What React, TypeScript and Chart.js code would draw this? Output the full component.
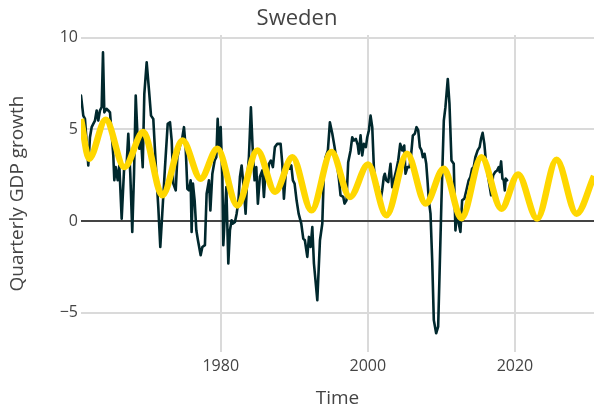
import React, { useEffect, useRef } from "react";
import { Chart, registerables } from "chart.js";

Chart.register(...registerables);

const FONT = "'Open Sans', 'Noto Sans', sans-serif";
const TITLE = "Sweden";
const X_TITLE = "Time";
const Y_TITLE = "Quarterly GDP growth";

const X_TICKS = [1980, 2000, 2020];
const Y_TICKS = [-5, 0, 5, 10];
const X_MIN = 1961;
const X_MAX = 2030.75;
const Y_MIN = -7.15;
const Y_MAX = 10.15;

const gdpYears = [
  1961.0, 1961.31, 1961.54, 1961.99, 1962.22, 1962.45, 1962.67, 1962.9, 1963.13, 1963.35,
  1963.58, 1963.81, 1963.99, 1964.17, 1964.49, 1964.71, 1964.94, 1965.17, 1965.39, 1965.53,
  1965.72, 1965.99, 1966.21, 1966.53, 1966.85, 1967.21, 1967.43, 1967.7, 1967.97, 1968.21,
  1968.44, 1968.71, 1968.93, 1969.16, 1969.39, 1969.61, 1969.93, 1970.25, 1970.52, 1970.83,
  1971.06, 1971.29, 1971.51, 1971.78, 1972.05, 1972.42, 1972.79, 1973.1, 1973.33, 1973.55,
  1973.88, 1974.1, 1974.41, 1974.78, 1975.0, 1975.23, 1975.46, 1975.68, 1975.91, 1976.04,
  1976.22, 1976.45, 1976.68, 1976.9, 1977.27, 1977.5, 1977.85, 1978.08, 1978.4, 1978.59,
  1978.86, 1979.17, 1979.4, 1979.58, 1979.76, 1979.99, 1980.22, 1980.35, 1980.57, 1980.76,
  1981.03, 1981.25, 1981.48, 1981.66, 1981.93, 1982.16, 1982.39, 1982.61, 1982.84, 1983.15,
  1983.38, 1983.61, 1983.83, 1984.1, 1984.37, 1984.6, 1984.83, 1985.05, 1985.32, 1985.65,
  1985.87, 1986.1, 1986.33, 1986.55, 1986.82, 1987.09, 1987.36, 1987.69, 1988.14, 1988.37,
  1988.59, 1988.82, 1989.13, 1989.4, 1989.59, 1989.81, 1990.04, 1990.31, 1990.59, 1990.95,
  1991.22, 1991.44, 1991.77, 1991.99, 1992.22, 1992.45, 1992.67, 1993.13, 1993.49, 1993.81,
  1994.03, 1994.26, 1994.57, 1994.84, 1995.17, 1995.48, 1995.75, 1996.06, 1996.29, 1996.66,
  1996.83, 1997.1, 1997.33, 1997.65, 1997.88, 1998.1, 1998.37, 1998.64, 1998.78, 1999.01,
  1999.24, 1999.46, 1999.73, 1999.92, 2000.14, 2000.37, 2000.6, 2000.82, 2001.18, 2001.41,
  2001.72, 2001.95, 2002.17, 2002.31, 2002.5, 2002.77, 2003.08, 2003.31, 2003.53, 2003.86,
  2004.13, 2004.4, 2004.67, 2004.95, 2005.12, 2005.39, 2005.67, 2005.9, 2006.12, 2006.39,
  2006.62, 2006.85, 2007.07, 2007.3, 2007.48, 2007.71, 2007.94, 2008.11, 2008.29, 2008.52,
  2008.75, 2008.97, 2009.29, 2009.56, 2009.74, 2010.01, 2010.33, 2010.55, 2010.87, 2011.1,
  2011.37, 2011.68, 2011.91, 2012.14, 2012.36, 2012.59, 2012.82, 2013.13, 2013.4, 2013.71,
  2013.94, 2014.17, 2014.39, 2014.62, 2014.93, 2015.2, 2015.39, 2015.61, 2015.84, 2016.02,
  2016.21, 2016.43, 2016.76, 2017.03, 2017.3, 2017.58, 2017.8, 2017.93, 2018.12, 2018.3,
  2018.48, 2018.62, 2018.75, 2018.94,
];

const gdpGrowth = [
  6.84, 5.75, 5.57, 3.03, 4.57, 5.12, 5.3, 5.48, 6.03, 5.48,
  6.03, 6.21, 9.2, 5.93, 6.12, 6.03, 5.93, 4.76, 3.58, 2.22,
  2.94, 2.22, 3.03, 0.13, 2.76, 3.12, 4.76, 2.58, -0.6, 2.58,
  6.84, 4.39, 3.94, 4.57, 2.94, 6.94, 8.66, 7.11, 5.75, 5.57,
  3.85, 2.22, 0.76, -1.42, 0.4, 2.94, 5.3, 5.39, 4.39, 2.04,
  1.67, 3.48, 4.03, 4.57, 5.12, 4.03, 1.76, 1.67, 2.22, -0.6,
  2.04, 1.13, -0.51, -1.05, -1.87, -1.42, -1.32, 1.49, 2.22, 0.58,
  2.58, 3.3, 3.48, 5.57, 4.03, 5.12, 2.4, -1.32, 0.4, 1.85,
  -2.32, -0.51, 0.04, -0.14, -0.05, 0.4, 1.03, 2.4, 3.03, 1.67,
  0.4, 2.4, 3.48, 6.21, 3.67, 2.22, 2.94, 0.95, 2.4, 2.76,
  1.31, 2.76, 2.22, 3.12, 3.3, 2.94, 4.03, 4.21, 4.21, 3.12,
  1.22, 2.49, 3.12, 2.85, 3.03, 2.22, 2.04, 1.13, 0.4, -0.14,
  -0.96, -1.05, -1.96, -0.87, -1.42, -0.33, -2.32, -4.32, -1.05, -0.14,
  2.76, 3.48, 3.85, 5.39, 4.76, 4.03, 3.3, 2.31, 1.4, 1.31,
  0.95, 1.13, 3.21, 3.85, 4.57, 4.39, 4.48, 4.12, 3.67, 4.67,
  3.58, 4.21, 4.03, 4.57, 4.94, 5.75, 5.12, 2.94, 1.49, 1.85,
  1.13, 1.67, 2.4, 2.58, 2.22, 2.12, 3.12, 1.85, 2.22, 2.76,
  3.3, 4.21, 3.85, 4.12, 2.58, 2.94, 2.94, 3.67, 4.67, 4.76,
  5.12, 4.94, 4.03, 3.85, 3.48, 3.67, 3.12, 2.22, 1.13, 0.4,
  -2.14, -5.41, -6.13, -5.77, -3.05, 1.13, 5.48, 6.21, 7.75, 6.39,
  3.3, 3.12, -0.51, 0.58, -0.14, -0.6, 1.13, 1.22, 1.67, 2.22,
  2.4, 2.85, 2.94, 3.48, 3.85, 4.03, 4.48, 4.81, 4.21, 3.4,
  2.76, 2.22, 1.4, 2.49, 2.67, 2.76, 2.94, 2.67, 3.25, 2.31,
  2.22, 1.67, 2.31, 2.22,
];

const fitYears = [
  1961.0, 1962.1, 1964.36, 1966.89, 1969.47, 1972.05, 1974.8, 1977.27, 1979.54, 1982.26,
  1984.98, 1987.4, 1989.75, 1992.34, 1995.05, 1997.57, 2000.03, 2002.53, 2005.33, 2007.87,
  2010.32, 2012.73, 2015.45, 2018.17, 2020.43, 2023.02, 2025.66, 2028.38, 2030.75,
];

const fitValues = [
  5.57, 3.4, 5.52, 2.94, 4.85, 1.4, 4.39, 2.31, 3.94, 0.85,
  3.85, 1.6, 3.48, 0.58, 3.76, 1.31, 3.08, 0.31, 3.67, 0.95,
  2.85, 0.15, 3.48, 0.67, 2.54, 0.13, 3.34, 0.4, 2.45,
];

export default function App() {
  const ref = useRef<HTMLCanvasElement | null>(null);

  useEffect(() => {
    document.body.style.margin = "0";
    const canvas = ref.current;
    if (!canvas) return;
    const tickFont = { family: FONT, size: 16 };
    const chart = new Chart(canvas, {
      type: "line",
      data: {
        datasets: [
          {
            label: "Fit",
            data: fitYears.map((x, i) => ({ x, y: fitValues[i] })),
            borderColor: "#FFD700",
            borderWidth: 6.5,
            pointRadius: 0,
            cubicInterpolationMode: "monotone",
            fill: false,
            order: 0,
          },
          {
            label: "GDP",
            data: gdpYears.map((x, i) => ({ x, y: gdpGrowth[i] })),
            borderColor: "#00282d",
            borderWidth: 2.6,
            pointRadius: 0,
            tension: 0,
            borderJoinStyle: "round",
            borderCapStyle: "round",
            fill: false,
            order: 1,
          },
        ],
      },
      options: {
        animation: false,
        responsive: false,
        devicePixelRatio: 1,
        layout: { padding: 0 },
        plugins: {
          legend: { display: false },
          tooltip: { enabled: false },
          title: {
            display: true,
            text: TITLE,
            color: "#444",
            font: { family: FONT, size: 22, weight: "normal" },
            padding: { top: 6, bottom: 2.6 },
          },
        },
        scales: {
          x: {
            type: "linear",
            min: X_MIN,
            max: X_MAX,
            afterBuildTicks: (s: any) => {
              s.ticks = X_TICKS.map((v) => ({ value: v }));
            },
            afterFit: (s: any) => {
              s.height = 64;
            },
            grid: { color: "#dadada", lineWidth: 2, drawTicks: false },
            border: { display: false },
            ticks: {
              color: "#444",
              font: tickFont,
              padding: 5,
              maxRotation: 0,
              callback: (v: any) => String(v),
            },
            title: {
              display: true,
              text: X_TITLE,
              color: "#444",
              font: { family: FONT, size: 19 },
              padding: { top: 0, bottom: 6 },
            },
          },
          y: {
            type: "linear",
            min: Y_MIN,
            max: Y_MAX,
            afterBuildTicks: (s: any) => {
              s.ticks = Y_TICKS.map((v) => ({ value: v }));
            },
            afterFit: (s: any) => {
              s.width = 81;
            },
            grid: {
              color: (ctx: any) => (ctx.tick && ctx.tick.value === 0 ? "#444" : "#dadada"),
              lineWidth: 2,
              drawTicks: false,
            },
            border: { display: false },
            ticks: {
              color: "#444",
              font: tickFont,
              padding: 3,
              callback: (v: any) => (v < 0 ? "\u2212" + Math.abs(v) : String(v)),
            },
            title: {
              display: true,
              text: Y_TITLE,
              color: "#444",
              font: { family: FONT, size: 19 },
              padding: { top: 6.5, bottom: 0 },
            },
          },
        },
      },
    } as any);
    return () => chart.destroy();
  }, []);

  return (
    <div style={{ width: 594, height: 416 }}>
      <canvas ref={ref} width={594} height={416} style={{ display: "block" }} />
    </div>
  );
}
